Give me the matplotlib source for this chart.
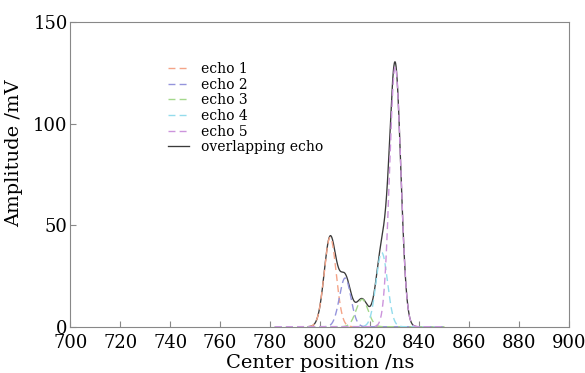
import numpy as np
import matplotlib.pyplot as plt

# echo decomposition (amplitude in mV, centre and width in ns)
labels = ['echo 1', 'echo 2', 'echo 3', 'echo 4', 'echo 5']
amplitudes = [44.0, 24.0, 13.5, 36.5, 128.0]
centers = [804.2, 810.2, 817.0, 824.9, 830.3]
widths = [2.4, 2.3, 2.4, 2.3, 2.25]
colors = ['#f4a488', '#9494dc', '#a4d88c', '#94dcec', '#cc94dc']

t = np.linspace(782, 850, 700)

plt.rcParams['font.family'] = 'DejaVu Serif'
fig = plt.figure(figsize=(5.85, 3.73), dpi=100)
ax = fig.add_axes([0.1205, 0.124, 0.852, 0.817])

total = np.zeros_like(t)
for a, c, w, col, lab in zip(amplitudes, centers, widths, colors, labels):
    echo = a * np.exp(-(t - c)**2 / (2 * w**2))
    total += echo
    ax.plot(t, echo, ls=(0, (5, 3)), c=col, lw=1.0, label=lab, zorder=3)
# black sum only where the signal is above the baseline
visible = total > 0.05
ax.plot(t[visible], total[visible], c='#3a3a3a', lw=0.95,
        label='overlapping echo', zorder=2)

ax.set_xlim(700, 900)
ax.set_ylim(0, 150)
ax.set_xticks(np.arange(700, 901, 20))
ax.set_yticks([0, 50, 100, 150])
ax.tick_params(direction='in', labelsize=13, color='#888888', length=4,
               top=False, right=False, pad=2)
ax.tick_params(axis='x', pad=5)
for s in ax.spines.values():
    s.set_color('#888888')
ax.set_xlabel('Center position /ns', fontsize=14, labelpad=2)
ax.set_ylabel('Amplitude /mV', fontsize=14, labelpad=2)
ax.yaxis.set_label_coords(-0.095, 0.57)

ax.legend(loc='upper left', bbox_to_anchor=(0.17, 0.91), frameon=False,
          fontsize=10, handlelength=1.5, handletextpad=0.9, labelspacing=0.12)

fig.savefig('out.png', dpi=100)
